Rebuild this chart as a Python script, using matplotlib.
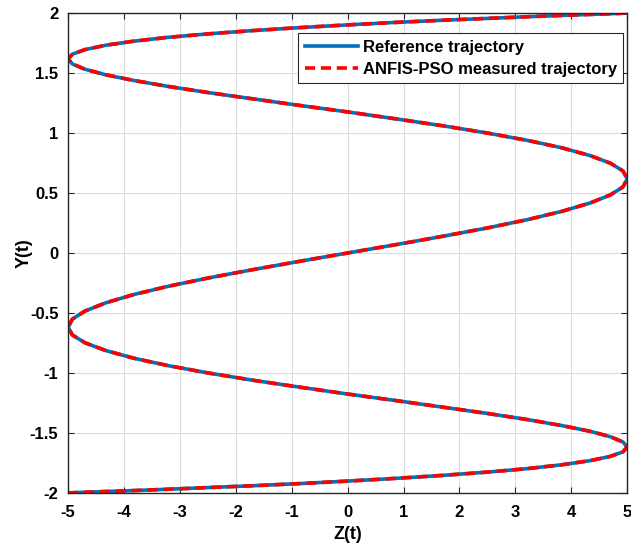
"""Reference vs ANFIS-PSO measured trajectory in the Z-Y plane"""
import matplotlib.pyplot as plt

# Sampled trajectory points (Z, Y) along the path
z_ref = [-5, -4.924, -4.698, -4.330, -3.830, -3.214, -2.5, -1.710, -0.868,
         0, 0.868, 1.710, 2.5, 3.214, 3.830, 4.330, 4.698, 4.924,
         5, 4.924, 4.698, 4.330, 3.830, 3.214, 2.5, 1.710, 0.868,
         0, -0.868, -1.710, -2.5, -3.214, -3.830, -4.330, -4.698, -4.924,
         -5, -4.924, -4.698, -4.330, -3.830, -3.214, -2.5, -1.710, -0.868,
         0,
         0.868, 1.710, 2.5, 3.214, 3.830, 4.330, 4.698, 4.924, 5,
         4.924, 4.698, 4.330, 3.830, 3.214, 2.5, 1.710, 0.868, 0,
         -0.868, -1.710, -2.5, -3.214, -3.830, -4.330, -4.698, -4.924, -5,
         -4.924, -4.698, -4.330, -3.830, -3.214, -2.5, -1.710, -0.868, 0,
         0.868, 1.710, 2.5, 3.214, 3.830, 4.330, 4.698, 4.924, 5]
y_ref = [-2.0, -1.999, -1.995, -1.989, -1.981, -1.970, -1.956, -1.941, -1.923,
         -1.902, -1.879, -1.854, -1.827, -1.798, -1.766, -1.732, -1.696, -1.658,
         -1.618, -1.576, -1.532, -1.486, -1.439, -1.389, -1.338, -1.286, -1.231,
         -1.176, -1.118, -1.060, -1.0, -0.939, -0.877, -0.813, -0.749, -0.684,
         -0.618, -0.551, -0.484, -0.416, -0.347, -0.278, -0.209, -0.140, -0.070,
         0,
         0.070, 0.140, 0.209, 0.278, 0.347, 0.416, 0.484, 0.551, 0.618,
         0.684, 0.749, 0.813, 0.877, 0.939, 1.0, 1.060, 1.118, 1.176,
         1.231, 1.286, 1.338, 1.389, 1.439, 1.486, 1.532, 1.576, 1.618,
         1.658, 1.696, 1.732, 1.766, 1.798, 1.827, 1.854, 1.879, 1.902,
         1.923, 1.941, 1.956, 1.970, 1.981, 1.989, 1.995, 1.999, 2.0]

# The controller tracks the reference with no visible error
z_meas = list(z_ref)
y_meas = list(y_ref)

x_ticks = [-5, -4, -3, -2, -1, 0, 1, 2, 3, 4, 5]
y_ticks = [-2, -1.5, -1, -0.5, 0, 0.5, 1, 1.5, 2]


def main():
    plt.rcParams['font.family'] = ['Arial', 'Liberation Sans', 'DejaVu Sans']
    fig = plt.figure(figsize=(6.31, 5.47), dpi=100)
    ax = fig.add_axes([0.108, 0.099, 0.886, 0.877])

    ax.plot(z_ref, y_ref, '-', color='#0072BD', linewidth=2.6,
            label='Reference trajectory')
    ax.plot(z_meas, y_meas, '--', color='#FF0000', linewidth=2.6,
            dashes=(2.8, 1.6), label='ANFIS-PSO measured trajectory')

    ax.set_xlim(-5, 5)
    ax.set_ylim(-2, 2)
    ax.set_xticks(x_ticks)
    ax.set_yticks(y_ticks)
    ax.set_xticklabels([f'{v:g}' for v in x_ticks])
    ax.set_yticklabels([f'{v:g}' for v in y_ticks])
    ax.grid(True, color='#dcdcdc', linewidth=0.8)
    ax.set_axisbelow(True)
    ax.tick_params(direction='in', top=True, right=True, length=4,
                   width=0.8, color='#262626', labelsize=12)
    ax.tick_params(axis='x', pad=9)
    ax.tick_params(axis='y', pad=7)
    for lab in ax.get_xticklabels() + ax.get_yticklabels():
        lab.set_fontweight('bold')
    for s in ax.spines.values():
        s.set_color('#262626')
        s.set_linewidth(1.0)

    ax.set_xlabel('Z(t)', fontsize=13, fontweight='bold', labelpad=4)
    ax.set_ylabel('Y(t)', fontsize=13, fontweight='bold', labelpad=-2)

    leg = ax.legend(loc='upper right', bbox_to_anchor=(0.993, 0.958),
                    fancybox=False, framealpha=1, edgecolor='#262626',
                    prop={'size': 12, 'weight': 'bold'}, handlelength=3.2,
                    borderpad=0.4, labelspacing=0.4, handletextpad=0.25,
                    borderaxespad=0)
    leg.get_frame().set_linewidth(0.8)

    fig.savefig('out.png', dpi=100)


if __name__ == "__main__":
    main()
